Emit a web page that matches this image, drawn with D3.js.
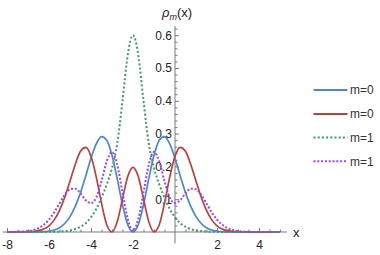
<!DOCTYPE html>
<html>
<head>
<meta charset="utf-8">
<script src="https://cdn.jsdelivr.net/npm/d3@7"></script>
<style>
  body { margin: 0; background: #fff; }
  svg text { font-family: "Liberation Sans", Arial, sans-serif; }
</style>
</head>
<body>
<div id="chart"></div>
<script>
// sample positions along x (read every 0.25)
var xs = [-8,-7.75,-7.5,-7.25,-7,-6.75,-6.5,-6.25,-6,-5.75,-5.5,-5.25,-5,-4.75,-4.5,-4.25,
          -4,-3.75,-3.5,-3.25,-3,-2.75,-2.5,-2.25,-2,-1.75,-1.5,-1.25,-1,-0.75,-0.5,-0.25,
          0,0.25,0.5,0.75,1,1.25,1.5,1.75,2,2.25,2.5,2.75,3,3.25,3.5,3.75,4,4.25,4.5,4.75,5];

// m=0, blue solid
var rhoBlue = [0,0,0,0,0,0,0.0005,0.001,0.003,0.006,0.013,0.026,0.047,0.078,0.120,0.171,
               0.225,0.269,0.291,0.280,0.234,0.162,0.083,0.022,0,
               0.022,0.083,0.162,0.234,0.280,0.291,0.269,0.225,0.171,0.120,0.078,0.047,0.026,0.013,0.006,0.003,0.001,0.0005,
               0,0,0,0,0,0,0,0,0,0];

// m=0, red solid
var rhoRed = [0,0,0,0,0.001,0.002,0.004,0.009,0.019,0.037,0.066,0.106,0.155,0.206,0.246,0.258,
              0.231,0.168,0.088,0.022,0.0003,0.032,0.101,0.169,0.197,
              0.169,0.101,0.032,0.0003,0.022,0.088,0.168,0.231,0.258,0.246,0.206,0.155,0.106,0.066,0.037,0.019,0.009,0.004,0.002,0.001,
              0,0,0,0,0,0,0,0];

// m=1, green dotted
var rhoGreen = [0,0,0,0,0,0,0,0,0.0003,0.0007,0.0015,0.003,0.005,0.009,0.016,0.027,
                0.045,0.070,0.105,0.145,0.195,0.270,0.400,0.540,0.600,
                0.540,0.400,0.270,0.195,0.145,0.105,0.070,0.045,0.027,0.016,0.009,0.005,0.003,0.0015,0.0007,0.0003,
                0,0,0,0,0,0,0,0,0,0,0,0];

// m=1, purple dotted
var rhoPurple = [0,0,0.0007,0.0015,0.003,0.006,0.012,0.022,0.038,0.060,0.087,0.113,0.130,0.132,0.118,0.097,
                 0.088,0.105,0.155,0.215,0.244,0.205,0.120,0.040,0.003,
                 0.040,0.120,0.205,0.244,0.215,0.155,0.105,0.088,0.097,0.118,0.132,0.130,0.113,0.087,0.060,0.038,0.022,0.012,0.006,0.003,0.0015,0.0007,
                 0,0,0,0,0,0];

var legendLabels = ['m=0','m=0','m=1','m=1'];
var xTicks = [-8,-6,-4,-2,2,4];
var yTicks = [0.1,0.2,0.3,0.4,0.5,0.6];

var series = [
    {values: rhoBlue,   color: '#4a89c8', dash: null},
    {values: rhoRed,    color: '#b8413f', dash: null},
    {values: rhoGreen,  color: '#3d9b69', dash: '2,2.2'},
    {values: rhoPurple, color: '#9b45ee', dash: '2,1.8'}
];

var width = 380, height = 255;

var x = d3.scaleLinear().domain([-8, 5]).range([7, 280]);
var y = d3.scaleLinear().domain([0, 0.6]).range([232, 35.2]);

var svg = d3.select('#chart').append('svg')
    .attr('width', width)
    .attr('height', height);

var axisColor = '#7a7a7a';

// axis lines through the origin
svg.append('line')
    .attr('x1', x(-8.2)).attr('x2', x(5.33))
    .attr('y1', y(0)).attr('y2', y(0))
    .style('stroke', axisColor);
svg.append('line')
    .attr('x1', x(0)).attr('x2', x(0))
    .attr('y1', y(-0.035)).attr('y2', y(0.628))
    .style('stroke', axisColor);

// x ticks (inward, labels below)
var xAxis = svg.append('g')
    .attr('transform', 'translate(0,' + y(0) + ')')
    .call(d3.axisBottom(x).tickValues(xTicks).tickSizeInner(-4).tickSizeOuter(0)
        .tickPadding(8).tickFormat(function(d) { return String(d); }));

var xMinor = d3.range(-16, 11).map(function(i) { return i * 0.5; })
    .filter(function(v) { return v % 2 !== 0; });
svg.append('g')
    .attr('transform', 'translate(0,' + y(0) + ')')
    .call(d3.axisBottom(x).tickValues(xMinor).tickSizeInner(-2.5).tickSizeOuter(0).tickFormat(''));

// y ticks (inward, labels left)
svg.append('g')
    .attr('transform', 'translate(' + x(0) + ',0)')
    .call(d3.axisLeft(y).tickValues(yTicks).tickSizeInner(-4).tickSizeOuter(0)
        .tickPadding(3).tickFormat(d3.format('.1f')));

var yMinor = d3.range(1, 32).filter(function(i) { return i % 5 !== 0; })
    .map(function(i) { return i * 0.02; });
svg.append('g')
    .attr('transform', 'translate(' + x(0) + ',0)')
    .call(d3.axisLeft(y).tickValues(yMinor).tickSizeInner(-2.5).tickSizeOuter(0).tickFormat(''));

svg.selectAll('.domain').remove();
svg.selectAll('.tick line').style('stroke', axisColor);
svg.selectAll('.tick text')
    .style('font-size', '12px')
    .style('font-family', '"Liberation Sans", Arial, sans-serif')
    .style('fill', '#222');

// curves
var line = d3.line()
    .x(function(d, i) { return x(xs[i]); })
    .y(function(d) { return y(d); })
    .curve(d3.curveMonotoneX);

series.forEach(function(s) {
    svg.append('path')
        .datum(s.values)
        .attr('d', line)
        .style('fill', 'none')
        .style('stroke', s.color)
        .style('stroke-width', s.dash ? 2 : 1.7)
        .style('stroke-dasharray', s.dash);
});

// axis labels
svg.append('text')
    .attr('x', 293)
    .attr('y', 237)
    .style('font-size', '13px')
    .style('fill', '#222')
    .text('x');

var yl = svg.append('text')
    .attr('x', 162)
    .attr('y', 16.5)
    .style('font-size', '13px')
    .style('fill', '#222');
yl.append('tspan').style('font-style', 'italic').text('\u03C1');
yl.append('tspan').style('font-style', 'italic').style('font-size', '9px')
    .attr('dy', 3).text('m');
yl.append('tspan').attr('dy', -3).text('(x)');

// legend
var legendY = [90, 114, 137.5, 161.3];
series.forEach(function(s, i) {
    svg.append('line')
        .attr('x1', 313.5).attr('x2', 347.5)
        .attr('y1', legendY[i]).attr('y2', legendY[i])
        .style('stroke', s.color)
        .style('stroke-width', s.dash ? 2 : 1.8)
        .style('stroke-dasharray', s.dash);
    svg.append('text')
        .attr('x', 350)
        .attr('y', legendY[i])
        .attr('dy', '.35em')
        .style('font-size', '12px')
        .style('fill', '#333')
        .text(legendLabels[i]);
});
</script>
</body>
</html>
